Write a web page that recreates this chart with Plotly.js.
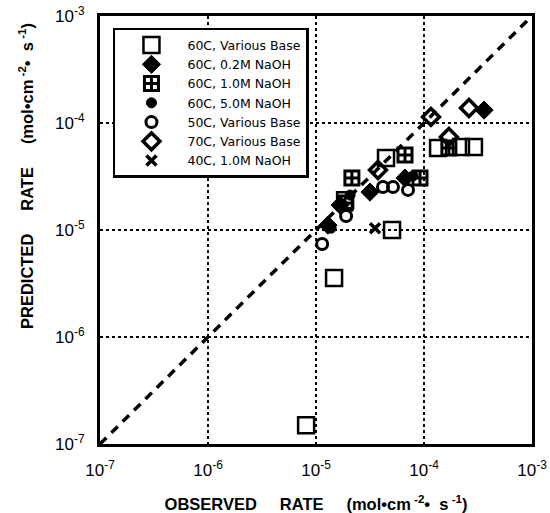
<!DOCTYPE html>
<html>
<head>
<meta charset="utf-8">
<script src="https://cdn.plot.ly/plotly-3.0.1.min.js"></script>
<style>html,body{margin:0;padding:0;background:#fff;}#chart{width:550px;height:513px;}</style>
</head>
<body>
<div id="chart"></div>
<script>
// Observed (x) and predicted (y) rates, mol cm^-2 s^-1
const s60VariousX = [8.1e-6, 1.47e-5, 5.06e-5, 4.45e-5, 1.35e-4, 2.2e-4, 2.9e-4, 1.86e-5];
const s60VariousY = [1.5e-7, 3.56e-6, 1.0e-5, 4.71e-5, 5.83e-5, 5.97e-5, 5.97e-5, 1.9e-5];

const s60_02X = [3.6e-4, 3.16e-5, 1.29e-5, 6.67e-5, 1.67e-5];
const s60_02Y = [1.32e-4, 2.26e-5, 1.11e-5, 3.06e-5, 1.71e-5];

const s60_10X = [2.15e-5, 6.67e-5, 1.7e-4, 9.18e-5, 1.86e-5];
const s60_10Y = [3.06e-5, 5.02e-5, 5.83e-5, 3.06e-5, 1.79e-5];

const s60_50X = [1.38e-5, 7.91e-5, 1.6e-5, 2.07e-5];
const s60_50Y = [1.04e-5, 3.2e-5, 1.71e-5, 2.12e-5];

const s50VariousX = [1.14e-5, 1.9e-5, 4.17e-5, 5.16e-5, 7.11e-5];
const s50VariousY = [7.4e-6, 1.35e-5, 2.52e-5, 2.52e-5, 2.37e-5];

const s70VariousX = [2.61e-4, 1.16e-4, 1.7e-4, 3.75e-5];
const s70VariousY = [1.38e-4, 1.14e-4, 7.4e-5, 3.64e-5];

const s40_10X = [3.52e-5];
const s40_10Y = [1.04e-5];

const parityX = [1e-7, 1e-3];
const parityY = [1e-7, 1e-3];

const seriesNames = ["60C, Various Base", "60C, 0.2M NaOH", "60C, 1.0M NaOH", "60C, 5.0M NaOH",
                     "50C, Various Base", "70C, Various Base", "40C, 1.0M NaOH"];

const decadeVals = [1e-7, 1e-6, 1e-5, 1e-4, 1e-3];
const decadeText = ["10<sup>-7</sup>", "10<sup>-6</sup>", "10<sup>-5</sup>", "10<sup>-4</sup>", "10<sup>-3</sup>"];
const minorMultipliers = [2, 3, 4, 5, 6, 7, 8, 9];

const SP = '\u00a0\u00a0\u00a0\u00a0\u00a0';
const unitText = '(mol\u2022cm<sup>\u00a0-2</sup>\u2022\u00a0\u00a0s<sup>\u00a0-1</sup>)';
const xTitle = '<b>OBSERVED' + SP + 'RATE' + SP + unitText + '</b>';
const yTitle = '<b>PREDICTED' + SP + 'RATE' + SP + unitText + '</b>';

const minorVals = [];
decadeVals.slice(0, -1).forEach(d => minorMultipliers.forEach(m => minorVals.push(d * m)));

const K = '#000';
const FONT = 'Liberation Sans, Arial, Helvetica, sans-serif';
function pts(x, y, name, symbol, size, lw) {
  return {x: x, y: y, name: name, type: 'scatter', mode: 'markers',
    marker: {symbol: symbol, size: size, color: K, line: {color: K, width: lw}}};
}

const traces = [
  {x: parityX, y: parityY, type: 'scatter', mode: 'lines', showlegend: false,
   line: {color: K, width: 3.5, dash: '9px,7px'}, hoverinfo: 'skip'},
  pts(s60VariousX, s60VariousY, seriesNames[0], 'square-open', 16, 2.5),
  pts(s60_02X, s60_02Y, seriesNames[1], 'diamond', 14, 1),
  pts(s60_10X, s60_10Y, seriesNames[2], 'square-cross-open', 14, 3),
  pts(s60_50X, s60_50Y, seriesNames[3], 'circle', 10, 1),
  pts(s50VariousX, s50VariousY, seriesNames[4], 'circle-open', 11, 3),
  pts(s70VariousX, s70VariousY, seriesNames[5], 'diamond-open', 13, 3.5),
  pts(s40_10X, s40_10Y, seriesNames[6], 'x-thin-open', 10, 3.5)
];

// inside tick marks on all four sides, placed through the axis scales (log units)
function tickShapes(vals, len, width) {
  const out = [];
  vals.forEach(v => {
    const lv = Math.log10(v);
    const common = {type: 'line', layer: 'above', line: {color: K, width: width}};
    out.push(Object.assign({xref: 'x', x0: lv, x1: lv, yref: 'paper', ysizemode: 'pixel', yanchor: 0, y0: 0, y1: len}, common));
    out.push(Object.assign({xref: 'x', x0: lv, x1: lv, yref: 'paper', ysizemode: 'pixel', yanchor: 1, y0: 0, y1: -len}, common));
    out.push(Object.assign({yref: 'y', y0: lv, y1: lv, xref: 'paper', xsizemode: 'pixel', xanchor: 0, x0: 0, x1: len}, common));
    out.push(Object.assign({yref: 'y', y0: lv, y1: lv, xref: 'paper', xsizemode: 'pixel', xanchor: 1, x0: 0, x1: -len}, common));
  });
  return out;
}

const axisBase = {
  type: 'log', range: [-7, -3],
  showline: true, linecolor: K, linewidth: 3, mirror: true,
  ticks: '', tickmode: 'array', tickvals: decadeVals, ticktext: decadeText,
  showgrid: true, gridcolor: K, gridwidth: 2.2, griddash: 'dot',
  zeroline: false, ticklabelstandoff: 9,
  tickfont: {family: FONT, size: 17, color: K}
};

const layout = {
  width: 550, height: 513,
  margin: {l: 100, r: 18, t: 16, b: 69},
  paper_bgcolor: '#fff', plot_bgcolor: '#fff',
  showlegend: true,
  xaxis: Object.assign({}, axisBase, {
    title: {text: xTitle, font: {family: FONT, size: 16.5, color: K}, standoff: 22}
  }),
  yaxis: Object.assign({}, axisBase, {title: {text: ''}}),
  shapes: tickShapes(minorVals, 6, 2).concat(tickShapes(decadeVals, 9, 2.5)),
  annotations: [{
    text: yTitle, textangle: -90, xref: 'paper', yref: 'paper',
    x: (26 - 100) / 432, y: 1 - (176 - 16) / 428, xanchor: 'center', yanchor: 'middle',
    showarrow: false, font: {family: FONT, size: 16.5, color: K}
  }],
  legend: {
    x: 0.03, y: 0.972, xanchor: 'left', yanchor: 'top',
    bgcolor: '#fff', bordercolor: K, borderwidth: 2.5,
    font: {family: 'DejaVu Sans, sans-serif', size: 12.5, color: K},
    itemwidth: 62, tracegroupgap: 0
  }
};

Plotly.newPlot('chart', traces, layout, {displayModeBar: false, staticPlot: true});
</script>
</body>
</html>
